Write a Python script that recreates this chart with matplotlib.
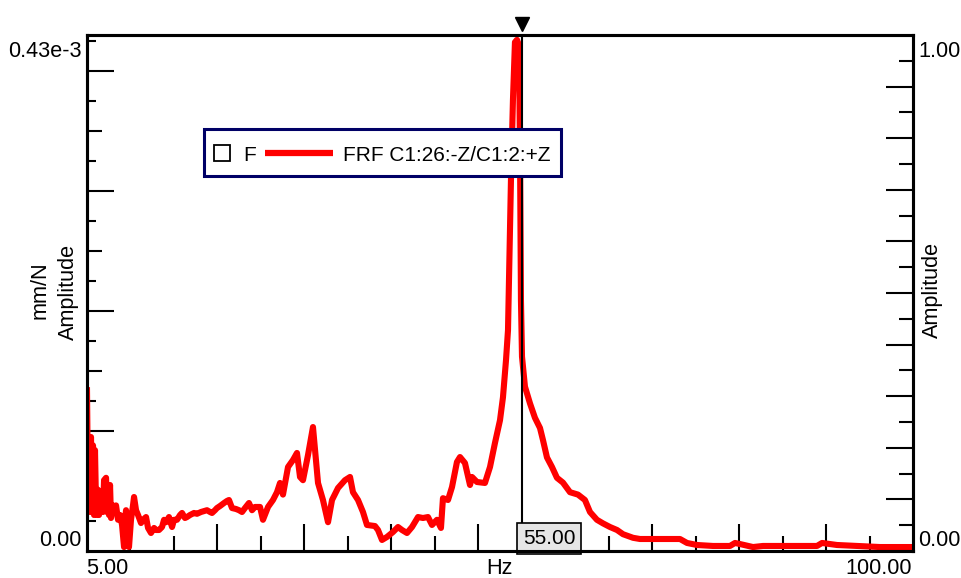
import numpy as np
import matplotlib
matplotlib.use("Agg")
import matplotlib.pyplot as plt
from matplotlib.lines import Line2D
from matplotlib.patches import Rectangle
from matplotlib.transforms import offset_copy

plt.rcParams['font.family'] = ['Liberation Sans', 'DejaVu Sans']

# FRF amplitude (amplitude in 1e-3 mm/N)
freq_hz = [5.00, 5.12, 5.23, 5.35, 5.46, 5.58, 5.69, 5.81, 5.92, 6.04,
           6.15, 6.27, 6.38, 6.61, 6.84, 6.96, 7.19, 7.30, 7.42, 7.53,
           7.65, 7.76, 7.99, 8.22, 8.34, 8.57, 8.80, 9.03, 9.26, 9.37,
           9.49, 9.60, 9.83, 10.06, 10.29, 10.41, 10.64, 10.87, 11.21, 11.44,
           11.79, 12.02, 12.36, 12.71, 12.94, 13.28, 13.63, 13.86, 14.09, 14.43,
           14.78, 15.01, 15.35, 15.70, 15.93, 16.27, 16.50, 16.85, 17.31, 17.65,
           18.11, 18.46, 18.80, 19.15, 19.38, 19.72, 19.95, 20.30, 20.76, 21.10,
           21.33, 21.68, 22.14, 22.48, 22.83, 23.17, 23.63, 23.98, 24.32, 24.90,
           25.24, 25.82, 26.39, 26.85, 27.20, 27.54, 28.12, 28.69, 29.15, 29.50,
           29.84, 30.42, 30.99, 31.57, 32.14, 32.72, 33.18, 33.87, 34.67, 35.25,
           35.59, 36.17, 36.74, 37.20, 38.12, 38.47, 38.93, 39.50, 40.19, 40.77,
           41.23, 41.80, 42.38, 43.07, 43.64, 44.22, 44.68, 45.25, 45.71, 45.94,
           46.52, 46.98, 47.55, 47.90, 48.47, 49.05, 49.28, 49.85, 50.77, 51.35,
           51.92, 52.50, 52.84, 53.19, 53.42, 53.76, 53.99, 54.22, 54.45, 54.68,
           54.80, 54.91, 55.03, 55.37, 55.95, 56.52, 57.10, 57.44, 57.90, 58.48,
           59.05, 59.74, 60.55, 61.47, 62.27, 62.85, 63.65, 64.35, 65.15, 65.96,
           66.65, 67.80, 68.60, 73.20, 74.01, 75.16, 77.00, 78.95, 79.53, 80.10,
           81.60, 82.75, 88.96, 89.54, 91.26, 96.20, 100.00]
amp_e3 = [0.134, 0.045, 0.0925, 0.0325, 0.095, 0.034, 0.088, 0.030, 0.084, 0.038,
          0.030, 0.051, 0.030, 0.047, 0.0325, 0.059, 0.061, 0.0325, 0.0525, 0.030,
          0.055, 0.0275, 0.038, 0.034, 0.038, 0.026, 0.030, 0.0217, 0.0033, 0.026,
          0.034, 0.0175, 0.0033, 0.026, 0.038, 0.045, 0.034, 0.030, 0.0233, 0.026,
          0.0283, 0.0192, 0.015, 0.0192, 0.0175, 0.0175, 0.020, 0.026, 0.024, 0.0283,
          0.020, 0.026, 0.026, 0.030, 0.0317, 0.0275, 0.0283, 0.030, 0.0317, 0.031,
          0.0325, 0.0333, 0.034, 0.0325, 0.0317, 0.034, 0.0358, 0.0375, 0.040, 0.0417,
          0.0425, 0.0358, 0.035, 0.034, 0.0325, 0.0358, 0.040, 0.034, 0.0367, 0.0367,
          0.026, 0.0367, 0.0425, 0.049, 0.0567, 0.047, 0.070, 0.0758, 0.0817, 0.0617,
          0.059, 0.080, 0.1033, 0.0567, 0.0425, 0.024, 0.0425, 0.0525, 0.059, 0.0617,
          0.049, 0.0425, 0.0325, 0.0217, 0.0208, 0.0175, 0.0092, 0.0117, 0.0158, 0.020,
          0.0175, 0.015, 0.020, 0.0283, 0.0275, 0.0283, 0.0217, 0.026, 0.0192, 0.044,
          0.0425, 0.0533, 0.0742, 0.0783, 0.0733, 0.055, 0.0617, 0.0575, 0.0567, 0.070,
          0.090, 0.109, 0.128, 0.159, 0.184, 0.309, 0.376, 0.424, 0.426, 0.4217,
          0.334, 0.209, 0.162, 0.137, 0.123, 0.111, 0.1025, 0.0925, 0.078, 0.070,
          0.061, 0.057, 0.049, 0.047, 0.0425, 0.0325, 0.026, 0.023, 0.020, 0.0175,
          0.014, 0.011, 0.010, 0.010, 0.0067, 0.005, 0.0042, 0.0042, 0.0067, 0.0058,
          0.0033, 0.0042, 0.0042, 0.0067, 0.005, 0.0033, 0.0033]

x_min, x_max = 5.0, 100.0
amp_max = 0.43          # 0.43e-3 mm/N
cursor_hz = 55.0
legend_labels = ['F', 'FRF C1:26:-Z/C1:2:+Z']

W, H = 962, 578
FS = 15.6
navy = '#000066'

fig = plt.figure(figsize=(W / 100, H / 100), dpi=100)
ax = fig.add_axes([87 / W, 1 - 551 / H, 826 / W, 516 / H])

ax.plot(freq_hz, amp_e3, color='#ff0000', lw=4.4, zorder=2)
ax.set_xlim(x_min, x_max)
ax.set_ylim(0, amp_max)

for s in ax.spines.values():
    s.set_linewidth(2.2)

# x ticks: long every 10 Hz, short in between, pointing inward
ax.set_xticks(np.arange(10, 100, 10))
ax.set_xticks(np.arange(15, 100, 10), minor=True)
ax.tick_params(axis='x', which='major', direction='in', length=19.5, width=1.5, labelbottom=False)
ax.tick_params(axis='x', which='minor', direction='in', length=10.8, width=1.5)

# left y ticks: three lengths
ax.set_yticks(np.arange(0.1, 0.42, 0.1))
ax.set_yticks(np.arange(0.025, 0.43, 0.05), minor=True)
ax.tick_params(axis='y', which='major', direction='in', length=19.5, width=1.5, labelleft=False)
ax.tick_params(axis='y', which='minor', direction='in', length=6.5, width=1.5)
mid = ax.secondary_yaxis('left')
mid.set_yticks(np.arange(0.05, 0.40, 0.1))
mid.tick_params(direction='in', length=10.8, width=1.5, labelleft=False)
mid.spines['left'].set_visible(False)

# right axis 0..1
ax2 = ax.twinx()
ax2.set_ylim(0, 1)
ax2.set_yticks(np.arange(0.1, 0.95, 0.1))
ax2.set_yticks(np.arange(0.05, 1.0, 0.1), minor=True)
ax2.tick_params(axis='y', which='major', direction='in', length=19.5, width=1.5, labelright=False)
ax2.tick_params(axis='y', which='minor', direction='in', length=10, width=1.5)
for s in ax2.spines.values():
    s.set_linewidth(2.2)

# cursor
ax.axvline(cursor_hz, color='black', lw=1.5, zorder=3)
tri = offset_copy(ax.transData, fig=fig, y=11, units='dots')
ax.plot([cursor_hz], [amp_max], marker='v', ms=10.5, color='black',
        transform=tri, clip_on=False, zorder=4)
ax.annotate(f'{cursor_hz:.2f}', xy=(cursor_hz, 0), xytext=(1, 3),
            textcoords='offset pixels', ha='left', va='bottom', fontsize=15,
            bbox=dict(boxstyle='square,pad=0.27', fc='#e6e6e6', ec='black', lw=1.2),
            zorder=5, annotation_clip=False)

# axis annotations (instrument style)
def px(x, y):
    return x / W, 1 - y / H

fig.text(*px(82, 57), '0.43e-3', ha='right', va='baseline', fontsize=FS)
fig.text(*px(82, 546), '0.00', ha='right', va='baseline', fontsize=FS)
fig.text(*px(918, 57), '1.00', ha='left', va='baseline', fontsize=FS)
fig.text(*px(918, 546), '0.00', ha='left', va='baseline', fontsize=FS)
fig.text(*px(86, 574), '5.00', ha='left', va='baseline', fontsize=FS)
fig.text(*px(500, 574), 'Hz', ha='center', va='baseline', fontsize=FS)
fig.text(*px(912, 574), '100.00', ha='right', va='baseline', fontsize=FS)
fig.text(*px(40, 290), 'mm/N', ha='center', va='center', rotation=90, fontsize=FS)
fig.text(*px(68, 292), 'Amplitude', ha='center', va='center', rotation=90, fontsize=FS)
fig.text(*px(932, 290), 'Amplitude', ha='center', va='center', rotation=90, fontsize=FS)

# legend box
x0, y0 = px(204.5, 175.5)
x1, y1 = px(561.5, 129.5)
fig.add_artist(Rectangle((x0, y0), x1 - x0, y1 - y0, transform=fig.transFigure,
                         fc='white', ec=navy, lw=2.2, zorder=10))
fig.add_artist(Line2D([px(222.5, 0)[0]], [px(0, 153.3)[1]], transform=fig.transFigure,
                      marker='s', ms=11.5, mfc='white', mec='black', mew=1.3, ls='', zorder=11))
fig.text(*px(243, 161), legend_labels[0], ha='left', va='baseline', fontsize=15, zorder=11)
fig.add_artist(Line2D([px(265, 0)[0], px(333, 0)[0]], [px(0, 153.3)[1]] * 2,
                      transform=fig.transFigure, color='#ff0000', lw=4.5,
                      solid_capstyle='butt', zorder=11))
fig.text(*px(343, 161), legend_labels[1], ha='left', va='baseline', fontsize=15, zorder=11)

fig.savefig('out.png', dpi=100)
